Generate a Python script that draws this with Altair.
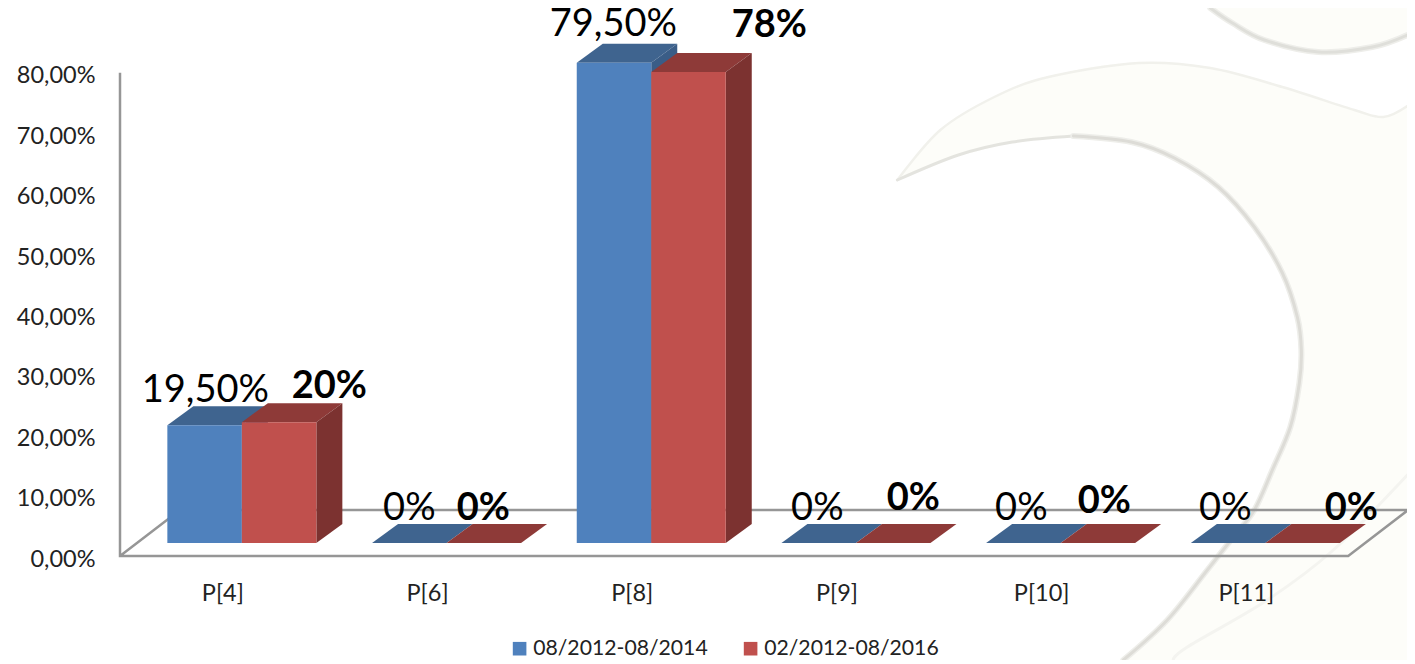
import altair as alt
import pandas as pd

# ---- chart values ----
categories = ["P[4]", "P[6]", "P[8]", "P[9]", "P[10]", "P[11]"]
series_names = ["08/2012-08/2014", "02/2012-08/2016"]
values_a = [19.5, 0, 79.5, 0, 0, 0]
values_b = [20, 0, 78, 0, 0, 0]
labels_a = ["19,50%", "0%", "79,50%", "0%", "0%", "0%"]
labels_b = ["20%", "0%", "78%", "0%", "0%", "0%"]
y_ticks = [0, 10, 20, 30, 40, 50, 60, 70, 80]

# ---- label placement (page pixels) ----
label_a_x = [205, 409, 613, 817, 1021, 1225]
label_a_base = [402, 520, 36, 520, 520, 520]
label_b_x = [329, 483, 769, 913, 1104, 1351]
label_b_base = [398, 520, 37, 510, 513, 520]

# ---- watermark outlines (page pixels) ----
wm_top_x = [897, 940, 994, 1048, 1138, 1210, 1282, 1354, 1383, 1407]
wm_top_y = [180, 130, 97, 77, 63, 68, 87, 110, 117, 106]
wm_inner_x = [897, 958, 1012, 1073, 1131, 1174, 1218, 1254, 1282, 1297, 1301, 1299, 1290, 1272, 1254, 1233, 1207, 1167, 1123]
wm_inner_y = [180, 155, 142, 136, 142, 158, 187, 227, 273, 317, 350, 383, 427, 470, 510, 537, 570, 620, 660]
wm_blob_x = [1210, 1232, 1264, 1318, 1372, 1407]
wm_blob_y = [8, 23, 40, 52, 47, 35]
wm_low_x = [1173, 1187, 1267, 1333, 1407]
wm_low_y = [660, 647, 600, 550, 475]

# ---- geometry of the pseudo-3D box ----
UNIT_X = 204.7      # px per category
UNIT_Y = 6.04       # px per percentage point
X0, Y0 = 222.0, 556.0


def ux(px):
    return (px - X0) / UNIT_X


def uy(py):
    return (Y0 - py) / UNIT_Y


BAR_L, BAR_M, BAR_R = -55 / UNIT_X, 19.5 / UNIT_X, 94 / UNIT_X
DEPTH_X, DEPTH_Y = 26 / UNIT_X, 19 / UNIT_Y
BASE = 13 / UNIT_Y
FLOOR_X, FLOOR_Y = 60 / UNIT_X, 46 / UNIT_Y

xs = alt.Scale(domain=[-0.5, 1287 / UNIT_X - 0.5], nice=False, zero=False)
ys = alt.Scale(domain=[0, 548 / UNIT_Y], nice=False, zero=False)
x_axis = alt.Axis(values=list(range(len(categories))), title=None, domain=False, ticks=False, grid=False,
                  labelExpr="[" + ",".join(f"'{c}'" for c in categories) + "][datum.value]",
                  labelFont="Lato", labelFontSize=23.5, labelColor="#222222", labelPadding=25,
                  labelFlush=False, zindex=1)
y_axis = alt.Axis(values=y_ticks, title=None, domain=False, ticks=False, grid=False,
                  labelExpr="replace(format(datum.value,'.2f'),'.',',')+'%'",
                  labelFont="Lato", labelFontSize=23.5, labelColor="#222222", labelPadding=25,
                  labelOffset=3, zindex=1)
X = lambda f="x": alt.X(f"{f}:Q", scale=xs, axis=x_axis)
Y = lambda f="y": alt.Y(f"{f}:Q", scale=ys, axis=y_axis)


def bar_layers(values, left, right, top_col, side_col, name):
    top, side, front = [], [], []
    for i, v in enumerate(values):
        lo, hi = i + left, i + right
        for t in (0, 1):
            top.append(dict(c=i, y=BASE + v + t * DEPTH_Y, x=lo + t * DEPTH_X, x2=hi + t * DEPTH_X))
            side.append(dict(c=i, x=hi + t * DEPTH_X, y=BASE + v + t * DEPTH_Y, y2=BASE + t * DEPTH_Y))
        front.append(dict(x=lo, x2=hi, y=BASE, y2=BASE + v, s=name))
    top_l = alt.Chart(pd.DataFrame(top)).mark_area(orient="horizontal", color=top_col).encode(
        y=Y(), x=X(), x2="x2:Q", detail="c:N")
    side_l = alt.Chart(pd.DataFrame(side)).mark_area(orient="vertical", color=side_col).encode(
        x=X(), y=Y(), y2="y2:Q", detail="c:N")
    front_l = alt.Chart(pd.DataFrame(front)).mark_rect().encode(
        x=X(), x2="x2:Q", y=Y(), y2="y2:Q",
        color=alt.Color("s:N", scale=alt.Scale(domain=series_names, range=["#4f81bd", "#c0504d"]),
                        legend=alt.Legend(title=None, orient="none", legendX=389, legendY=630,
                                          direction="horizontal", symbolType="square", symbolSize=185,
                                          symbolOpacity=1, symbolStrokeWidth=0, labelFont="Lato",
                                          labelFontSize=21.2, labelColor="#222222", labelLimit=300,
                                          columnPadding=32, symbolOffset=0, labelOffset=3)))
    return [top_l, side_l, front_l]


def wm_line(xp, yp, color, width, opacity=1.0):
    df = pd.DataFrame({"x": [ux(p) for p in xp], "y": [uy(p) for p in yp], "o": range(len(xp))})
    return alt.Chart(df).mark_line(color=color, strokeWidth=width, opacity=opacity, clip=False,
                                   interpolate="cardinal", strokeCap="round").encode(x=X(), y=Y(), order="o:Q")


# watermark fills
bottom = uy(660)
top_df = pd.DataFrame({"x": [ux(p) for p in wm_top_x], "y": [uy(p) for p in wm_top_y], "y2": bottom})
wm_fill = alt.Chart(top_df).mark_area(color="#fdfdf9", interpolate="monotone").encode(x=X(), y=Y(), y2="y2:Q")
blob_df = pd.DataFrame({"x": [ux(p) for p in wm_blob_x], "y": [uy(p) for p in wm_blob_y], "y2": uy(8)})
wm_blob = alt.Chart(blob_df).mark_area(color="#fdfdf9", interpolate="monotone").encode(x=X(), y=Y(), y2="y2:Q")

# the white bay cut from the cream by the inner arc
top_i = wm_inner_y.index(min(wm_inner_y))
rows = []
for x_, y_ in zip(wm_inner_x[top_i:], wm_inner_y[top_i:]):
    left_px = 880
    if y_ < 180:
        pts = list(zip(wm_inner_y[:top_i + 1], wm_inner_x[:top_i + 1]))
        for (y1, x1), (y2, x2) in zip(pts, pts[1:]):
            if y2 <= y_ <= y1:
                left_px = x1 + (x2 - x1) * (y1 - y_) / (y1 - y2)
    rows.append(dict(y=uy(y_), x=ux(left_px), x2=ux(x_)))
wm_bay = alt.Chart(pd.DataFrame(rows)).mark_area(color="white", orient="horizontal").encode(
    y=Y(), x=X(), x2="x2:Q")

wm = [wm_fill, wm_blob, wm_bay,
      wm_line(wm_top_x, wm_top_y, "#f1f1ec", 2.5),
      wm_line(wm_inner_x[:4], wm_inner_y[:4], "#e4e4df", 3),
      wm_line(wm_inner_x[3:], wm_inner_y[3:], "#eeeeea", 6),
      wm_line(wm_inner_x[3:], wm_inner_y[3:], "#dddcd7", 3),
      wm_line(wm_blob_x, wm_blob_y, "#eeeeea", 6),
      wm_line(wm_blob_x, wm_blob_y, "#dfdfda", 3),
      wm_line(wm_low_x, wm_low_y, "#f4f4f0", 3)]

# walls and floor
frame_df = pd.DataFrame({
    "x": [-0.5, -0.5, 5.5, 5.5 + FLOOR_X, -0.5 + FLOOR_X, -0.5],
    "y": [80, 0, 0, FLOOR_Y, FLOOR_Y, 0],
    "o": range(6)})
frame = alt.Chart(frame_df).mark_line(color="#969696", strokeWidth=2.5, strokeJoin="miter", clip=False).encode(
    x=X(), y=Y(), order="o:Q")


def text_layer(xp, base, texts, weight):
    df = pd.DataFrame({"x": [ux(p) for p in xp], "y": [uy(p) for p in base], "t": texts})
    return alt.Chart(df).mark_text(font="Lato", fontSize=38, fontWeight=weight, color="black",
                                   align="center", baseline="alphabetic", clip=False).encode(
        x=X(), y=Y(), text="t:N")


bars_a = bar_layers(values_a, BAR_L, BAR_M, "#3f648f", "#3a5d87", series_names[0])
bars_b = bar_layers(values_b, BAR_M, BAR_R, "#8e3a38", "#7c3230", series_names[1])

chart = alt.layer(
    *wm, frame, *bars_a, *bars_b,
    text_layer(label_a_x, label_a_base, labels_a, "normal"),
    text_layer(label_b_x, label_b_base, labels_b, "bold"),
).properties(
    width=1287, height=548,
    padding={"left": 112, "top": 0, "right": 0, "bottom": 104},
    autosize=alt.AutoSizeParams(type="none"),
    background="white",
).configure_view(stroke=None).resolve_scale(x="shared", y="shared")

chart.save("out.html", embed_options={"renderer": "svg", "actions": False})
